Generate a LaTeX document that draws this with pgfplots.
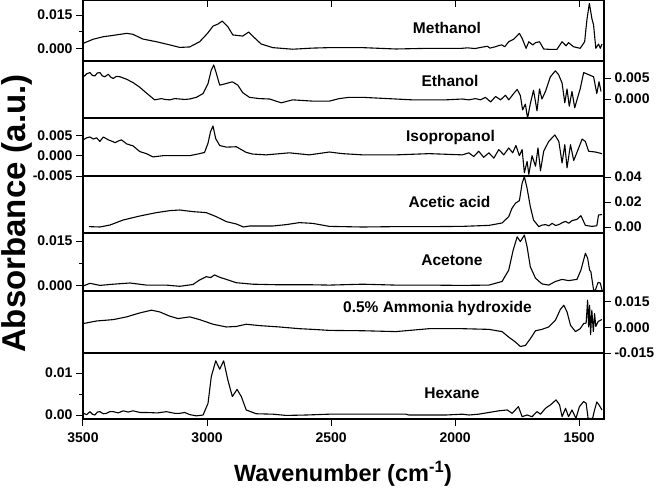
\documentclass[border=0pt]{standalone}
\usepackage{pgfplots}
\pgfplotsset{compat=1.18}
\usepackage{fontspec}
\setmainfont{Liberation Sans}
\pgfplotsset{
  panel/.style={scale only axis, width=521bp, anchor=north west,
    x dir=reverse, xmin=1400, xmax=3500, xtick=\empty,
    axis line style={line width=1.1bp},
    every tick/.style={black, line width=1bp},
    major tick length=7bp, minor tick length=4bp, tick align=outside,
    tick label style={font=\fontsize{14bp}{16bp}\selectfont\bfseries},
    /pgf/number format/assume math mode=true,
    scaled y ticks=false,
    yticklabel style={/pgf/number format/.cd, fixed, fixed zerofill, precision=3}},
  spec/.style={black, line width=1.1bp, line join=round, no marks}
}
\tikzset{lab/.style={anchor=base, font=\fontsize{15.5bp}{18bp}\selectfont\bfseries}}
\begin{document}
\begin{tikzpicture}
\useasboundingbox (0bp,0bp) rectangle (656bp,-488bp);
% Methanol
\begin{axis}[panel, at={(83bp,-0.5bp)}, height=60.5bp, ymin=-0.0053, ymax=0.0214,
  ytick={0,0.015}, minor ytick={0.0075}, ytick pos=left]
\addplot[spec] table {
3499 0.0025
3459 0.0043
3419 0.0054
3379 0.0060
3324 0.0069
3299 0.0065
3259 0.0044
3204 0.0032
3150 0.0018
3110 0.0007
3070 0.0009
3030 0.0032
2998 0.0069
2976 0.0101
2956 0.0110
2939 0.0123
2916 0.0098
2896 0.0062
2856 0.0057
2832 0.0075
2816 0.0057
2782 0.0022
2735 0.0006
2655 -0.0001
2574 0.0004
2507 0.0006
2373 0.0006
2239 0.0000
2105 0.0003
1973 0.0003
1950 0.0005
1920 0.0002
1892 0.0008
1870 0.0012
1860 0.0004
1837 0.0010
1825 0.0015
1812 0.0018
1800 0.0010
1784 0.0032
1764 0.0043
1741 0.0069
1730 0.0047
1714 0.0003
1703 0.0032
1687 0.0018
1676 0.0028
1660 0.0032
1643 0.0000
1616 -0.0002
1590 -0.0002
1569 0.0032
1553 0.0014
1543 0.0028
1523 0.0010
1496 0.0003
1478 0.0032
1469 0.0128
1459 0.0201
1449 0.0135
1442 0.0106
1433 0.0003
1422 0.0022
1415 0.0003
1408 0.0022
};
\end{axis}
\begin{axis}[panel, at={(83bp,-0.5bp)}, height=60.5bp, ymin=-0.0053, ymax=0.0214,
  ytick=\empty, xtick={1500,2000,2500,3000,3500}, xticklabels={}, xtick pos=right, tick align=inside]
\end{axis}
% Ethanol
\begin{axis}[panel, at={(83bp,-61bp)}, height=57bp, ymin=-0.00452, ymax=0.00905,
  ytick={0,0.005}, ytick pos=right, yticklabel pos=right]
\addplot[spec] table {
3499 0.0052
3485 0.0060
3472 0.0063
3462 0.0056
3452 0.0055
3442 0.0062
3432 0.0063
3422 0.0055
3412 0.0053
3398 0.0059
3388 0.0052
3378 0.0049
3365 0.0054
3351 0.0053
3324 0.0047
3298 0.0039
3271 0.0028
3244 0.0014
3211 -0.0002
3184 0.0001
3170 -0.0001
3150 -0.0002
3130 0.0001
3110 0.0000
3090 -0.0001
3070 0.0000
3043 0.0004
3016 0.0013
2996 0.0037
2983 0.0069
2973 0.0081
2963 0.0062
2949 0.0033
2922 0.0037
2898 0.0041
2876 0.0033
2856 0.0015
2829 0.0004
2789 0.0001
2748 0.0000
2701 -0.0009
2655 -0.0002
2574 -0.0005
2507 -0.0005
2467 0.0001
2427 0.0004
2373 0.0004
2306 0.0002
2239 0.0000
2172 -0.0002
2105 -0.0002
2038 -0.0002
1971 0.0000
1945 -0.0002
1918 0.0001
1898 -0.0002
1878 0.0004
1857 -0.0007
1837 0.0006
1817 -0.0002
1797 0.0009
1784 -0.0002
1764 0.0013
1750 0.0023
1737 0.0008
1728 -0.0026
1717 -0.0012
1708 -0.0046
1697 -0.0011
1684 0.0021
1670 -0.0028
1660 0.0024
1650 0.0000
1636 0.0018
1616 0.0053
1596 0.0067
1583 0.0058
1569 0.0038
1558 -0.0009
1549 0.0024
1540 -0.0017
1529 0.0018
1518 -0.0021
1505 0.0006
1496 0.0024
1482 0.0063
1462 0.0058
1442 0.0053
1429 0.0013
1420 0.0041
1412 0.0018
};
\end{axis}
% Isopropanol
\begin{axis}[panel, at={(83bp,-118bp)}, height=58bp, ymin=-0.005, ymax=0.00927,
  ytick={-0.005,0,0.005}, ytick pos=left]
\addplot[spec] table {
3499 0.0039
3485 0.0044
3472 0.0046
3458 0.0041
3445 0.0044
3432 0.0035
3418 0.0046
3398 0.0039
3385 0.0036
3371 0.0032
3358 0.0036
3345 0.0039
3324 0.0029
3298 0.0024
3271 0.0010
3244 0.0005
3218 -0.0003
3177 0.0000
3124 0.0000
3070 0.0000
3030 0.0005
3010 0.0008
2996 0.0031
2986 0.0059
2976 0.0073
2965 0.0042
2949 0.0025
2922 0.0021
2882 0.0022
2842 0.0008
2816 0.0004
2762 0.0002
2668 0.0007
2588 0.0002
2507 0.0009
2454 0.0005
2373 0.0002
2239 0.0002
2105 0.0005
1971 0.0002
1945 0.0007
1925 -0.0002
1905 0.0011
1885 -0.0004
1864 0.0007
1844 -0.0006
1824 0.0015
1804 0.0002
1784 0.0019
1768 0.0007
1755 0.0025
1741 0.0000
1730 0.0015
1721 -0.0042
1710 -0.0014
1703 -0.0046
1690 0.0000
1676 -0.0026
1666 0.0019
1656 -0.0037
1643 0.0011
1623 0.0035
1598 0.0051
1582 0.0035
1569 -0.0018
1558 0.0027
1549 -0.0030
1535 0.0027
1522 -0.0012
1502 0.0019
1488 0.0041
1475 0.0035
1462 0.0011
1435 0.0009
1408 0.0005
};
\end{axis}
% Acetic acid
\begin{axis}[panel, at={(83bp,-176bp)}, height=57bp, ymin=-0.0048, ymax=0.0408,
  ytick={0,0.02,0.04}, ytick pos=right, yticklabel pos=right,
  yticklabel style={/pgf/number format/precision=2}]
\addplot[spec] table {
3475 0.0003
3432 0.0000
3391 0.0016
3338 0.0056
3271 0.0088
3204 0.0115
3150 0.0131
3110 0.0136
3057 0.0123
3003 0.0115
2963 0.0083
2922 0.0043
2882 0.0024
2853 0.0000
2829 0.0008
2735 0.0008
2681 0.0019
2628 0.0035
2574 0.0029
2507 0.0005
2373 0.0000
2239 0.0003
2105 0.0003
1971 0.0005
1864 0.0013
1811 0.0032
1784 0.0083
1771 0.0149
1757 0.0190
1741 0.0211
1730 0.0350
1721 0.0403
1710 0.0310
1697 0.0163
1684 0.0056
1663 0.0003
1650 0.0015
1636 0.0019
1622 0.0010
1609 0.0029
1595 0.0012
1582 0.0019
1568 0.0035
1555 0.0045
1542 0.0030
1529 0.0051
1509 0.0061
1493 0.0091
1475 0.0013
1449 0.0005
1429 0.0010
1422 0.0096
1408 0.0100
};
\end{axis}
% Acetone
\begin{axis}[panel, at={(83bp,-233bp)}, height=58bp, ymin=-0.00167, ymax=0.01767,
  ytick={0,0.015}, minor ytick={0.0075}, ytick pos=left]
\addplot[spec] table {
3499 0.0000
3472 0.0009
3432 0.0002
3378 0.0006
3311 0.0010
3244 0.0003
3164 0.0003
3110 -0.0001
3057 0.0005
3030 0.0020
3003 0.0031
2985 0.0028
2970 0.0037
2949 0.0029
2922 0.0022
2882 0.0011
2816 0.0006
2708 0.0004
2574 0.0004
2507 0.0003
2373 0.0006
2239 0.0003
2105 0.0003
1971 0.0002
1864 0.0003
1811 0.0015
1784 0.0053
1766 0.0120
1750 0.0164
1737 0.0148
1721 0.0170
1710 0.0131
1697 0.0064
1676 0.0026
1650 0.0007
1623 0.0003
1596 0.0015
1569 0.0022
1543 0.0018
1509 0.0022
1493 0.0053
1475 0.0109
1466 0.0093
1458 0.0053
1453 0.0048
1442 -0.0013
1435 -0.0015
1424 0.0012
1415 0.0010
1408 -0.0013
};
\end{axis}
% Ammonia hydroxide
\begin{axis}[panel, at={(83bp,-291bp)}, height=62bp, ymin=-0.015, ymax=0.0212,
  ytick={-0.015,0,0.015}, ytick pos=right, yticklabel pos=right]
\addplot[spec] table {
3499 0.0022
3445 0.0037
3378 0.0045
3324 0.0061
3271 0.0084
3224 0.0100
3191 0.0090
3150 0.0065
3117 0.0051
3070 0.0061
3030 0.0045
2976 0.0018
2922 0.0002
2882 0.0005
2842 0.0018
2789 0.0010
2708 0.0002
2628 -0.0008
2574 -0.0012
2507 -0.0018
2373 -0.0020
2239 -0.0025
2105 -0.0008
1971 -0.0008
1864 -0.0012
1811 -0.0025
1784 -0.0057
1757 -0.0086
1737 -0.0112
1717 -0.0106
1697 -0.0067
1676 -0.0020
1650 -0.0012
1623 0.0002
1596 0.0041
1576 0.0104
1562 0.0129
1549 0.0090
1535 0.0012
1515 -0.0025
1496 -0.0008
1482 0.0022
1472 0.0025
1466 0.0159
1462 0.0002
1458 0.0129
1454 -0.0043
1449 0.0100
1443 -0.0025
1438 0.0080
1433 0.0005
1424 0.0033
1415 0.0041
1408 0.0045
};
\end{axis}
% Hexane
\begin{axis}[panel, at={(83bp,-353bp)}, height=66bp, ymin=-0.00095, ymax=0.01476,
  ytick={0,0.01}, minor ytick={0.005}, ytick pos=left,
  yticklabel style={/pgf/number format/precision=2},
  xtick={1500,2000,2500,3000,3500}, xtick pos=left,
  xticklabel style={/pgf/number format/1000 sep={}, yshift=-3bp}]
\addplot[spec] table {
3499 0.0004
3485 0.0001
3472 0.0008
3462 0.0002
3452 0.0000
3442 0.0007
3432 0.0008
3418 0.0003
3405 0.0004
3392 0.0008
3378 0.0008
3358 0.0005
3338 0.0010
3318 0.0007
3298 0.0010
3270 0.0006
3244 0.0006
3200 0.0005
3164 0.0008
3130 0.0004
3110 0.0004
3090 0.0006
3070 0.0001
3043 -0.0002
3016 0.0000
2996 0.0028
2983 0.0091
2965 0.0129
2949 0.0109
2933 0.0129
2916 0.0083
2898 0.0044
2879 0.0061
2862 0.0044
2842 0.0012
2802 0.0003
2735 0.0002
2681 -0.0001
2601 0.0000
2507 0.0002
2199 0.0002
2186 0.0000
2038 0.0000
1971 0.0002
1945 0.0000
1905 0.0002
1864 0.0006
1824 0.0010
1790 0.0012
1770 0.0004
1745 0.0020
1730 -0.0004
1710 0.0000
1690 -0.0004
1670 0.0008
1656 0.0002
1636 0.0016
1616 0.0024
1593 0.0036
1579 0.0024
1569 -0.0004
1555 0.0016
1543 -0.0004
1529 0.0012
1513 -0.0008
1499 0.0020
1482 0.0032
1472 0.0028
1464 -0.0008
1446 -0.0008
1438 0.0012
1429 0.0031
1420 0.0024
1408 0.0012
};
\end{axis}
\node[lab] at (447bp,-33.3bp) {Methanol};
\node[lab] at (450bp,-86bp) {Ethanol};
\node[lab] at (450.5bp,-141.7bp) {Isopropanol};
\node[lab] at (449.5bp,-207.3bp) {Acetic acid};
\node[lab] at (452bp,-265.7bp) {Acetone};
\node[lab] at (437.5bp,-312.7bp) {0.5\% Ammonia hydroxide};
\node[lab] at (452bp,-398.3bp) {Hexane};
\node[rotate=90, anchor=base, font=\fontsize{33bp}{36bp}\selectfont\bfseries] at (25bp,-213.5bp) {Absorbance (a.u.)};
\node[anchor=base, font=\fontsize{23.5bp}{28bp}\selectfont\bfseries] at (343bp,-481.7bp) {Wavenumber (cm\textsuperscript{-1})};
\end{tikzpicture}
\end{document}
